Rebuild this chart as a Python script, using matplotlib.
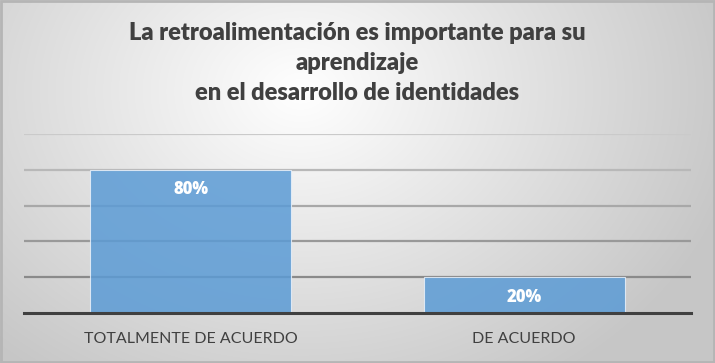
import numpy as np
import matplotlib
matplotlib.use("Agg")
import matplotlib.pyplot as plt
from matplotlib.patches import Rectangle

categories = ["TOTALMENTE DE ACUERDO", "DE ACUERDO"]
values = [80, 20]
value_labels = ["80%", "20%"]
grid_levels = [20, 40, 60, 80, 100]
title = "La retroalimentación es importante para su\naprendizaje\nen el desarrollo de identidades"

W, H = 715, 363
fig = plt.figure(figsize=(W / 100, H / 100), dpi=100)

# background gradient
bg = fig.add_axes([0, 0, 1, 1], zorder=-10)
yy, xx = np.mgrid[0:H, 0:W]
cx, cy = W * 0.42, H * 0.25
d = np.sqrt(((xx - cx) / (W * 0.62)) ** 2 + ((yy - cy) / (H * 0.95)) ** 2)
d = np.clip(d, 0, 1)
val = 1.0 - 0.22 * d
img = np.dstack([val, val, val])
bg.imshow(img, extent=[0, W, H, 0], aspect="auto", interpolation="bilinear")
bg.add_patch(Rectangle((0.5, 0.5), W - 1.5, H - 1.5, fill=False, edgecolor="#b5b5b5", lw=2))
bg.set_xlim(0, W)
bg.set_ylim(H, 0)
bg.axis("off")

# plot area: x 24..691, y baseline 313, 100% at 134
left, right = 24 / W, 691 / W
bottom, top = 1 - 313 / H, 1 - 134 / H
ax = fig.add_axes([left, bottom, right - left, top - bottom])
ax.patch.set_alpha(0)
ax.set_xlim(-0.5, 1.5)
ax.set_ylim(0, 100)

grid_colors = ["#8a8a8a", "#999999", "#a8a8a8", "#b8b8b8", "#cacaca"]
for g, c in zip(grid_levels, grid_colors):
    ax.axhline(g, color=c, lw=1.6, zorder=1)

x = np.arange(len(categories))
bars = ax.bar(x, values, width=0.603, color="#5b9bd5", alpha=0.85,
              edgecolor="#e8f0fa", linewidth=0.8, zorder=2)
ax.axhline(0, color="#404040", lw=2.2, zorder=3, clip_on=False)

for xi, v, lab in zip(x, values, value_labels):
    ax.annotate(lab, (xi, v), xytext=(0, -14.5), textcoords="offset points",
                ha="center", va="center", color="white", fontsize=12,
                fontweight="heavy", family="Open Sans", zorder=4)

ax.set_xticks(x)
ax.set_xticklabels(categories, fontsize=11.5, color="#404040", family="Lato")
ax.tick_params(axis="x", length=0, pad=14)
ax.set_yticks([])
for s in ax.spines.values():
    s.set_visible(False)

fig.text(0.5, 1 - 63 / H, title, ha="center", va="center", fontsize=17,
         fontweight="heavy", color="#404040", family="Lato", linespacing=1.45)

fig.savefig("out.png", dpi=100)
